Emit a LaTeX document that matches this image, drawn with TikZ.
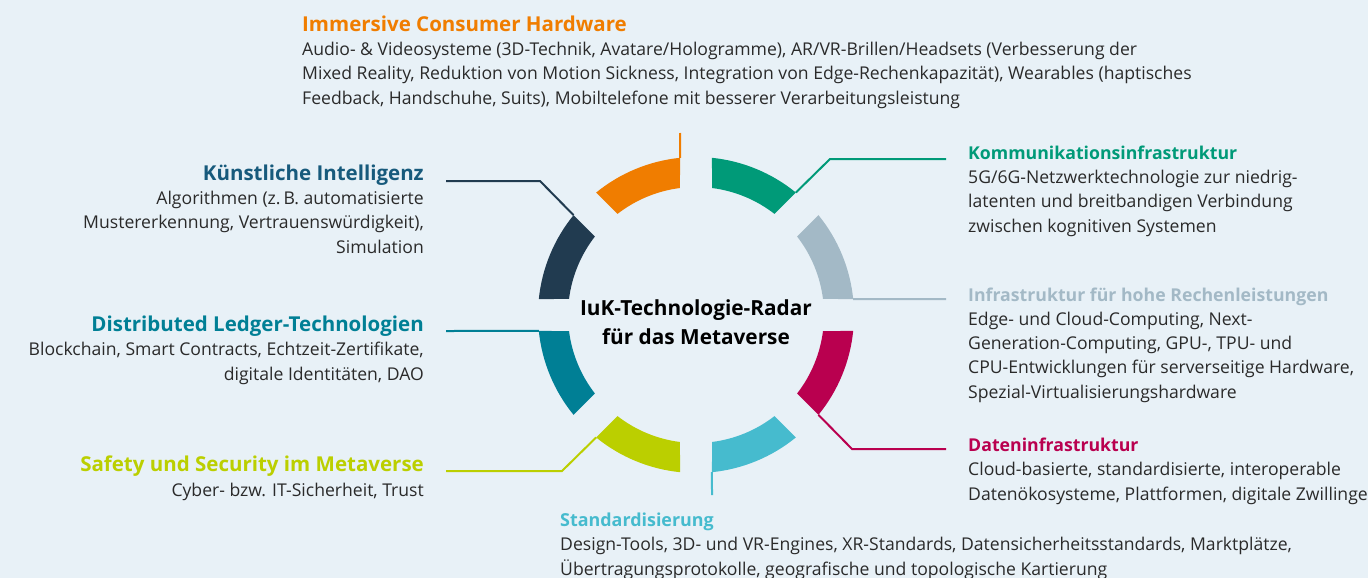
\documentclass[tikz,border=0pt]{standalone}
\usepackage{fontspec}
\setmainfont{Open Sans}
\definecolor{bg}{HTML}{E8F1F7}
\definecolor{txt}{HTML}{2A2A2A}
\definecolor{cOr}{HTML}{F07D00}
\definecolor{cGr}{HTML}{009A78}
\definecolor{cGy}{HTML}{A3B9C6}
\definecolor{cMa}{HTML}{B9004F}
\definecolor{cCy}{HTML}{46BBCE}
\definecolor{cYg}{HTML}{BBCF00}
\definecolor{cTe}{HTML}{007F95}
\definecolor{cNv}{HTML}{213B50}
\definecolor{cKi}{HTML}{175A7C}
\newcommand{\Ro}{158}
\newcommand{\Ri}{128}
\newcommand{\dO}{5.8}
\newcommand{\dI}{7.2}
\newcommand{\ttl}[3][20.5]{{\color{#2}\fontsize{#1}{24.2}\selectfont\bfseries #3}}
\tikzset{
	blk/.style={inner sep=0, font=\fontsize{17.6}{24.2}\selectfont, text=txt},
	link/.style={line width=2, draw=#1},
}

\begin{document}
\begin{tikzpicture}[x=1pt, y=-1pt]
	\fill[bg] (0,0) rectangle (1368,578);
	\useasboundingbox (0,0) rectangle (1368,578);
	\begin{scope}[shift={(696,315)}]
		\foreach \c [count=\k from 0] in {cMa,cCy,cYg,cTe,cNv,cOr,cGr,cGy}{
			\pgfmathsetmacro{\a}{45*\k}
			\fill[\c] (\a+\dO:\Ro) arc[start angle=\a+\dO, end angle=\a+45-\dO, radius=\Ro]
				-- (\a+45-\dI:\Ri) arc[start angle=\a+45-\dI, end angle=\a+\dI, radius=\Ri] -- cycle;
			\coordinate (s\k b) at (\a+45-\dO:\Ro);
			}
	\end{scope}
	% base = baseline of the last line
	\node[inner sep=0, anchor=base, align=center, font=\fontsize{20.8}{29}\selectfont\bfseries] (radar) at (696,344) {IuK-Technologie-Radar\\für das Metaverse};

	\node[blk, anchor=base west, align=left] (hw) at (302,104) {\ttl{cOr}{Immersive Consumer Hardware}\\Audio- \& Videosysteme (3D-Technik, Avatare/Hologramme), AR/VR-Brillen/Headsets (Verbesserung der\\Mixed Reality, Reduktion von Motion Sickness, Integration von Edge-Rechenkapazität), Wearables (haptisches\\Feedback, Handschuhe, Suits), Mobiltelefone mit besserer Verarbeitungsleistung};
	\node[blk, anchor=base west, align=left] (kom) at (968,232) {\ttl[17.7]{cGr}{Kommunikationsinfrastruktur}\\5G/6G-Netzwerktechnologie zur niedrig-\\latenten und breitbandigen Verbindung\\zwischen kognitiven Systemen};
	\node[blk, anchor=base west, align=left] (inf) at (968,398) {\ttl[17.7]{cGy}{Infrastruktur für hohe Rechenleistungen}\\Edge- und Cloud-Computing, Next-\\Generation-Computing, GPU-, TPU- und\\CPU-Entwicklungen für serverseitige Hardware,\\Spezial-Virtualisierungshardware};
	\node[blk, anchor=base west, align=left] (dat) at (968,500) {\ttl[17.7]{cMa}{Dateninfrastruktur}\\Cloud-basierte, standardisierte, interoperable\\Datenökosysteme, Plattformen, digitale Zwillinge};
	\node[blk, anchor=base west, align=left] (std) at (560,575) {\ttl[17.9]{cCy}{Standardisierung}\\Design-Tools, 3D- und VR-Engines, XR-Standards, Datensicherheitsstandards, Marktplätze,\\Übertragungsprotokolle, geografische und topologische Kartierung};
	\node[blk, anchor=base east, align=right] (saf) at (424,496) {\ttl{cYg}{Safety und Security im Metaverse}\\Cyber- bzw. IT-Sicherheit, Trust};
	\node[blk, anchor=base east, align=right] (dlt) at (424,380) {\ttl{cTe}{Distributed Ledger-Technologien}\\Blockchain, Smart Contracts, Echtzeit-Zertifikate,\\digitale Identitäten, DAO};
	\node[blk, anchor=base east, align=right] (ki) at (424,253) {\ttl{cKi}{Künstliche Intelligenz}\\Algorithmen (z.\,B. automatisierte\\Mustererkennung, Vertrauenswürdigkeit),\\Simulation};

	\coordinate (hwE) at (680,133);
	\coordinate (komK) at (830,159);
	\coordinate (komE) at (946,159);
	\coordinate (infE) at (946,299);
	\coordinate (datK) at (852,449);
	\coordinate (datE) at (946,449);
	\coordinate (stdE) at (712,495);
	\coordinate (safK) at (562,471);
	\coordinate (safE) at (446,471);
	\coordinate (dltE) at (446,331);
	\coordinate (kiK) at (540,181);
	\coordinate (kiE) at (446,181);

	\draw[link=cOr] (s5b) -- (hwE);
	\draw[link=cGr] (s6b) -- (komK) -- (komE);
	\draw[link=cGy] (s7b) -- (infE);
	\draw[link=cMa] (s0b) -- (datK) -- (datE);
	\draw[link=cCy] (s1b) -- (stdE);
	\draw[link=cYg] (s2b) -- (safK) -- (safE);
	\draw[link=cTe] (s3b) -- (dltE);
	\draw[link=cNv] (s4b) -- (kiK) -- (kiE);
\end{tikzpicture}
\end{document}
